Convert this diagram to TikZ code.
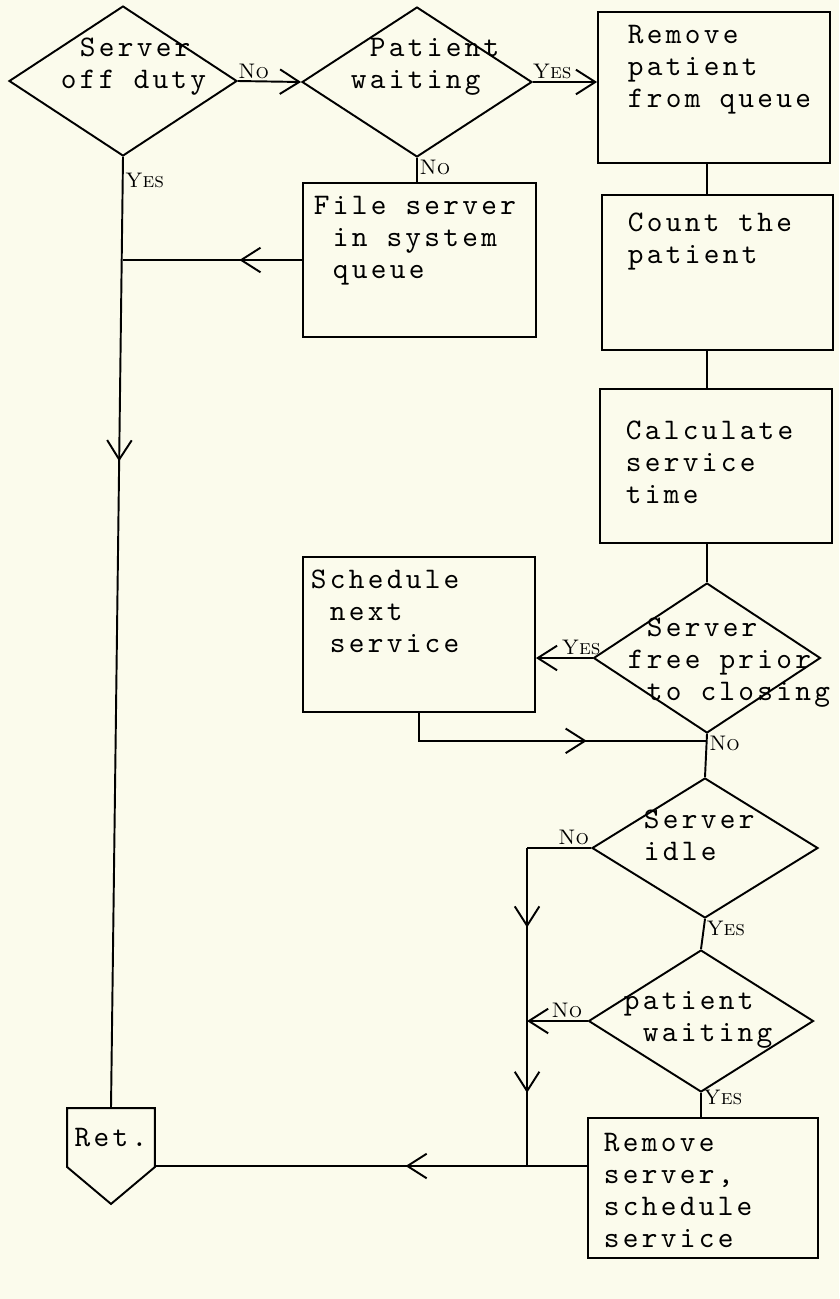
\documentclass[tikz,border=0pt]{standalone}
\usepackage{fontspec}
\newfontfamily\typw{lmmono10-regular.otf}[LetterSpace=11]
\usetikzlibrary{shapes.geometric,arrows.meta,decorations.markings,calc}
\definecolor{paper}{RGB}{251,251,236}
\tikzset{
  vtip/.tip={Straight Barb[length=11pt,width=14pt]},
  box/.style={draw, inner sep=0pt},
  dec/.style={draw, diamond, inner sep=0pt},
  txt/.style={font=\typw\fontsize{17}{18.2}\selectfont, align=left, inner sep=0pt, anchor=north west},
  yn/.style={font=\fontsize{12}{12}\selectfont, inner sep=1pt},
  midarrow/.style={postaction={decorate}, decoration={markings, mark=at position #1 with {\arrow{vtip}}}},
}
\begin{document}
\begin{tikzpicture}[x=0.02cm, y=-0.02cm, line width=1.1pt]
  \fill[paper] (0,0) rectangle (839,1299);

  % Decisions
  \node[dec, minimum width=4.56cm, minimum height=3cm] (offd) at (123,81) {};
  \node[dec, minimum width=4.6cm, minimum height=3cm] (pw1) at (417,82) {};
  \node[dec, minimum width=4.54cm, minimum height=3cm] (fpc) at (707,658) {};
  \node[dec, minimum width=4.52cm, minimum height=2.8cm] (idle) at (705,848) {};
  \node[dec, minimum width=4.5cm, minimum height=2.84cm] (pw2) at (701,1021) {};

  % Process boxes
  \node[box, minimum width=4.64cm, minimum height=3.02cm] (rmq) at (714,87.5) {};
  \node[box, minimum width=4.62cm, minimum height=3.1cm] (cnt) at (717.5,272.5) {};
  \node[box, minimum width=4.64cm, minimum height=3.08cm] (calc) at (716,466) {};
  \node[box, minimum width=4.66cm, minimum height=3.08cm] (fsq) at (419.5,260) {};
  \node[box, minimum width=4.64cm, minimum height=3.1cm] (sched) at (419,634.5) {};
  \node[box, minimum width=4.6cm, minimum height=2.8cm] (rsv) at (703,1188) {};

  % Return
  \node[inner sep=0pt, minimum width=1.72cm, minimum height=1.14cm, font=\typw\fontsize{17}{18.2}\selectfont] (ret) at (111,1137.5) {Ret.};
  \draw (ret.south west) -- (ret.north west) -- (ret.north east) -- (ret.south east) -- ([yshift=-0.74cm]ret.south) -- cycle;

  % Texts
  \node[txt] (offd-t) at (60,37) {~Server\\off duty};
  \node[txt] (pw1-t) at (350,37) {~Patient\\waiting};
  \node[txt] (rmq-t) at (627,24) {Remove\\patient\\from queue};
  \node[txt] (fsq-t) at (313,195) {File server\\~in system\\~queue};
  \node[txt] (cnt-t) at (627,212) {Count the\\patient};
  \node[txt] (calc-t) at (625,420) {Calculate\\service\\time};
  \node[txt] (sched-t) at (310,569) {Schedule\\~next\\~service};
  \node[txt] (fpc-t) at (627,617) {~Server\\free prior\\~to closing};
  \node[txt] (idle-t) at (643,809) {Server\\idle};
  \node[txt] (pw2-t) at (623,990) {patient\\~waiting};
  \node[txt] (rsv-t) at (603,1132) {Remove\\server,\\schedule\\service};

  % Connectors, top row
  \draw[-vtip] (offd.east) -- (pw1.west) node[yn, pos=.25, above] {\textsc{No}};
  \draw[-vtip] (pw1.east) -- (pw1.east -| rmq.west) node[yn, pos=.3, above] {\textsc{Yes}};
  \draw (pw1.south) -- (pw1.south |- fsq.north) node[yn, pos=.4, right] {\textsc{No}};
  \draw[midarrow=.32] (offd.south) -- (ret.north) node[yn, pos=.025, right] {\textsc{Yes}};
  \draw[midarrow=.35] (fsq.west) -- (fsq.west -| offd.south);

  % Right column
  \draw (fpc.north |- rmq.south) -- (fpc.north |- cnt.north);
  \draw (fpc.north |- cnt.south) -- (fpc.north |- calc.north);
  \draw (fpc.north |- calc.south) -- (fpc.north);
  \draw[-vtip] (fpc.west) -- (fpc.west -| sched.east) node[yn, pos=.2, above] {\textsc{Yes}};
  \coordinate (jn1) at ($(fpc.south)!0.16!(idle.north)$);
  \draw (fpc.south) -- (idle.north) node[yn, pos=.22, right] {\textsc{No}};
  \draw[midarrow=.62] (sched.south) |- (jn1);

  % Lower part
  \coordinate (nojoin) at ([xshift=-1.28cm]idle.west);
  \coordinate (rsvin) at ([yshift=0.44cm]rsv.west);
  \draw (idle.west) -- (nojoin) node[yn, pos=.27, above] {\textsc{No}};
  \draw[postaction={decorate}, decoration={markings, mark=at position .25 with {\arrow{vtip}}, mark=at position .77 with {\arrow{vtip}}}] (nojoin) -- (nojoin |- rsvin);
  \draw (idle.south) -- (pw2.north) node[yn, pos=.3, right] {\textsc{Yes}};
  \draw[-vtip] (pw2.west) -- (pw2.west -| nojoin) node[yn, pos=.34, above] {\textsc{No}};
  \draw (pw2.south) -- (pw2.south |- rsv.north) node[yn, pos=.2, right] {\textsc{Yes}};
  \draw[midarrow=.42] (rsvin) -- (rsvin -| ret.east);
\end{tikzpicture}
\end{document}
